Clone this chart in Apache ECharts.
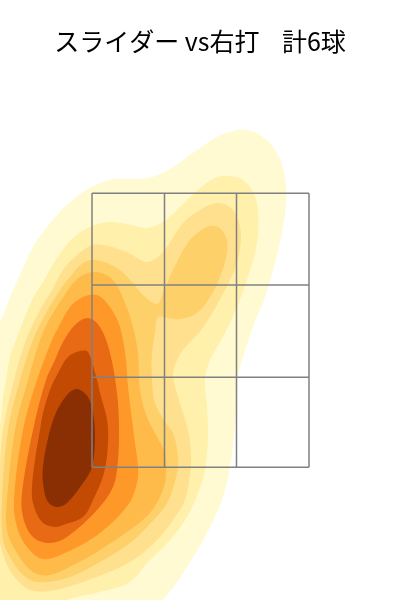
<!DOCTYPE html>
<html><head><meta charset="utf-8">
<style>html,body{margin:0;padding:0;background:#fff}#c{width:400px;height:600px}</style>
<script src="https://cdn.jsdelivr.net/npm/echarts@6/dist/echarts.min.js"></script>
</head><body><div id="c"></div>
<script>
const titleText = 'スライダー vs右打    計6球';
const levelColors = ['#FFFAD2','#FFF0AC','#FEE08F','#FED06A','#FEBB4A','#FE9829','#E96A14','#C24A03','#8A2E04'];
const zoneX = [-108,-35.5,36.5,109];
const zoneY = [406.7,315,222.7,132.7];
const level1 = [[-215,240],[-200,278],[-193,295],[-187,310],[-180,325],[-167,353],[-150,377],[-133,395],[-117,408],[-100,417],[-85,421],[-53,422],[-33,429],[-17,440],[0,452],[17,463],[33,469],[47,470],[63,463],[77,447],[85,423],[86,400],[83,373],[75,337],[65,303],[53,273],[42,240],[38,223],[36,190],[33,155],[30,133],[22,100],[7,67],[-13,33],[-37,0],[-60,-20],[-215,-20]];
const level2 = [[-215,130],[-200,175],[-197,203],[-194,220],[-190,243],[-184,260],[-168,300],[-157,318],[-143,342],[-127,362],[-108,374],[-90,378],[-73,376],[-53,372],[-37,378],[-20,393],[0,412],[17,423],[30,424],[43,420],[53,408],[58,390],[57,357],[48,323],[37,293],[25,267],[10,240],[5,220],[7,193],[8,163],[5,130],[-2,107],[-13,83],[-30,60],[-53,37],[-70,18],[-100,8],[-133,0],[-170,-20],[-215,-20]];
const level3 = [[-205,80],[-201,120],[-197,170],[-186,220],[-174,260],[-160,290],[-148,310],[-137,330],[-123,345],[-108,355],[-97,355],[-73,348],[-53,338],[-37,348],[-17,377],[0,390],[17,397],[30,393],[38,380],[41,363],[37,337],[30,320],[18,297],[8,280],[-3,265],[-17,250],[-25,235],[-27,223],[-20,197],[-12,170],[-9,147],[-10,127],[-15,100],[-27,80],[-43,60],[-70,38],[-117,18],[-150,9],[-170,10],[-183,20],[-193,35],[-200,57]];
const level4 = [[-198,100],[-192,170],[-180,220],[-167,260],[-155,285],[-140,310],[-130,323],[-117,337],[-103,340],[-83,332],[-67,317],[-57,305],[-43,296],[-37,307],[-27,330],[-10,360],[7,373],[18,373],[26,363],[27,347],[20,323],[10,303],[-3,287],[-20,281],[-33,282],[-42,283],[-45,267],[-48,247],[-48,220],[-45,197],[-35,178],[-27,167],[-22,143],[-23,127],[-33,97],[-53,73],[-70,57],[-100,38],[-133,22],[-163,18],[-177,25],[-190,43],[-197,60]];
const level5 = [[-193,100],[-185,170],[-172,220],[-160,260],[-150,282],[-132,310],[-127,317],[-117,325],[-103,328],[-87,320],[-75,297],[-67,273],[-62,247],[-60,210],[-53,183],[-43,163],[-35,147],[-34,127],[-37,110],[-50,87],[-70,70],[-100,50],[-117,40],[-150,25],[-167,28],[-183,47],[-193,70]];
const level6 = [[-186,100],[-177,170],[-163,220],[-148,260],[-143,270],[-130,293],[-117,303],[-103,305],[-90,293],[-80,273],[-74,240],[-72,213],[-65,157],[-62,133],[-63,117],[-72,95],[-100,67],[-133,48],[-157,41],[-173,53],[-183,73]];
const level7 = [[-178,107],[-167,170],[-154,220],[-145,240],[-137,258],[-125,275],[-112,282],[-100,273],[-90,247],[-83,207],[-81,173],[-82,140],[-87,113],[-103,90],[-133,63],[-150,57],[-167,63],[-177,83]];
const level8 = [[-168,113],[-165,140],[-160,170],[-157,187],[-150,210],[-142,227],[-132,243],[-120,249],[-112,248],[-103,220],[-100,207],[-93,180],[-92,157],[-96,127],[-107,100],[-117,83],[-137,75],[-145,73],[-158,78],[-167,97]];
const level9 = [[-123,211],[-112,203],[-107,187],[-105,163],[-108,133],[-117,117],[-132,98],[-142,93],[-152,98],[-157,117],[-157,133],[-153,157],[-145,185],[-133,205]];
const levels = [level1,level2,level3,level4,level5,level6,level7,level8,level9];

const zoneSegs = [];
zoneX.forEach(x => zoneSegs.push([x, zoneY[0], x, zoneY[3]]));
zoneY.forEach(y => zoneSegs.push([zoneX[0], y, zoneX[3], y]));

const chart = echarts.init(document.getElementById('c'), null, {renderer:'canvas'});
chart.setOption({
  animation:false,
  backgroundColor:'#fff',
  title:{text:titleText,left:'center',top:24,textStyle:{fontFamily:'"Noto Sans CJK JP"',fontSize:25,fontWeight:'normal',color:'#000'}},
  grid:{left:0,right:0,top:0,bottom:0},
  xAxis:{type:'value',min:-200,max:200,show:false},
  yAxis:{type:'value',min:0,max:600,show:false},
  series:[
    {type:'custom',coordinateSystem:'cartesian2d',clip:true,silent:true,
     data:levels.map((_,i)=>[i]),encode:{x:[],y:[]},
     renderItem:(p,api)=>{const i=api.value(0);
       return {type:'polygon',shape:{points:levels[i].map(q=>api.coord(q)),smooth:0.35},style:{fill:levelColors[i]}};}},
    {type:'custom',coordinateSystem:'cartesian2d',clip:true,silent:true,z:5,
     data:zoneSegs,encode:{x:[0,2],y:[1,3]},
     renderItem:(p,api)=>{const a=api.coord([api.value(0),api.value(1)]),b=api.coord([api.value(2),api.value(3)]);
       return {type:'line',shape:{x1:a[0],y1:a[1],x2:b[0],y2:b[1]},style:{stroke:'#808080',lineWidth:1.5}};}}
  ]
});
</script></body></html>
